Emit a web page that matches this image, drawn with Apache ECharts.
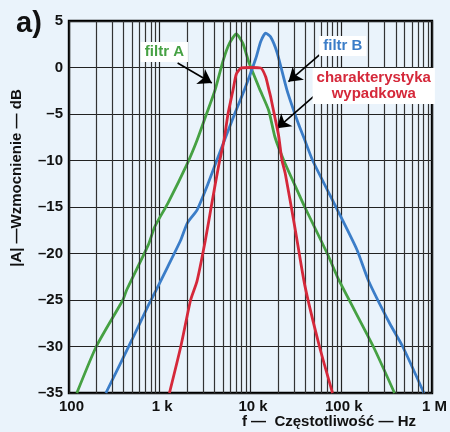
<!DOCTYPE html>
<html>
<head>
<meta charset="utf-8">
<script src="https://cdn.jsdelivr.net/npm/echarts@6/dist/echarts.min.js"></script>
<style>
  html, body { margin: 0; padding: 0; background: #eaf3fb; }
  #chart { width: 450px; height: 432px; }
</style>
</head>
<body>
<div id="chart"></div>
<script>
// Frequency response of two band-pass filters and their cascade (gain in dB vs frequency in Hz)
const filterAFreq = [122, 200, 392, 433, 746, 883, 1227, 2018, 2582, 3273, 4074, 5012, 5861, 6982, 8241, 9638, 12589, 15849, 18621, 23281, 30974, 39628, 70146, 94624, 225424, 386367];
const filterAGain = [-35.0, -30.0, -25.0, -23.9, -19.1, -17.1, -14.6, -10.3, -7.8, -5.0, -2.4, 0.8, 2.6, 3.6, 2.6, 0.5, -2.3, -4.6, -7.5, -10.0, -12.7, -15.0, -20.0, -22.9, -30.0, -35.0];

const filterBFreq = [255, 493, 746, 912, 1227, 1694, 2018, 2582, 3311, 4246, 5176, 6683, 8570, 11455, 12972, 14689, 16634, 19634, 25177, 33574, 39628, 48417, 90573, 148936, 199067, 341193, 475335, 814704];
const filterBGain = [-35.0, -29.3, -25.6, -23.95, -21.4, -18.6, -16.7, -15.3, -12.8, -10.0, -7.8, -5.0, -2.4, 1.0, 2.8, 3.7, 3.3, 1.6, -2.4, -6.0, -7.8, -10.0, -15.3, -19.6, -22.9, -27.5, -30.0, -35.0];

const totalFreq = [1279, 1706, 2188, 2570, 3177, 3750, 4467, 5117, 5649, 6427, 6982, 7907, 10000, 12972, 14689, 15959, 16634, 18836, 20464, 22233, 24155, 30974, 39628, 57544, 80168];
const totalGain = [-35.0, -30.0, -25.0, -23.0, -18.6, -14.6, -10.5, -7.8, -5.0, -2.4, -0.7, -0.05, 0.0, -0.05, -1.0, -2.4, -3.1, -5.65, -7.4, -10.0, -11.4, -17.3, -23.4, -30.0, -35.0];

// Axis ticks
const freqTicks = [100, 1000, 10000, 100000, 1000000];
const freqTickLabels = ['100', '1 k', '10 k', '100 k', '1 M'];
const minorFreqLines = [200, 300, 400, 500, 600, 700, 800, 900,
  2000, 3000, 4000, 5000, 6000, 7000, 8000, 9000,
  20000, 30000, 40000, 50000, 60000, 70000, 80000, 90000,
  200000, 300000, 400000, 500000, 600000, 700000, 800000, 900000];
const gainMin = -35, gainMax = 5, gainStep = 5;

// Annotations: label text, anchor [Hz, dB], arrow from / to [Hz, dB]
const labelA = { text: 'filtr A', at: [1125, 1.67], from: [1574, 0.48], to: [3750, -1.67] };
const labelB = { text: 'filtr B', at: [104000, 2.3], from: [57500, 1.35], to: [26200, -1.53] };
const labelTotal = { text: 'charakterystyka\nwypadkowa', at: [228000, -2.0], from: [52700, -2.9], to: [19600, -6.54] };

const GREEN = '#46a143', BLUE = '#3b7dc8', RED = '#d5283a';
const FONT = 'Liberation Sans, Arial, sans-serif';

const zip = (xs, ys) => xs.map((x, i) => [x, ys[i]]);

const chart = echarts.init(document.getElementById('chart'), null, { renderer: 'canvas' });

function curve(name, freq, gain, color, z) {
  return {
    name, type: 'line', data: zip(freq, gain), z,
    showSymbol: false, smooth: 0.2,
    lineStyle: { color, width: 2.8 }, clip: true, silent: true
  };
}

function tag(item, color) {
  return {
    symbol: 'rect', symbolSize: 1, silent: true,
    itemStyle: { color: 'rgba(0,0,0,0)' },
    data: [{
      coord: item.at,
      label: {
        show: true, position: 'inside', formatter: item.text,
        color, fontWeight: 'bold', fontSize: 15, fontFamily: FONT,
        lineHeight: 16, align: 'center',
        backgroundColor: '#ffffff', padding: [3, 4, 1, 4]
      }
    }]
  };
}

chart.setOption({
  backgroundColor: '#eaf3fb',
  animation: false,
  title: {
    text: 'a)', left: 11, top: 4,
    textStyle: { fontSize: 29, fontWeight: 'bold', fontFamily: FONT, color: '#111' }
  },
  grid: {
    left: 69, top: 21, right: 10, bottom: 39,
    show: true, borderColor: '#000', borderWidth: 2.4, backgroundColor: '#eaf3fb'
  },
  xAxis: {
    type: 'log', logBase: 10, min: freqTicks[0], max: freqTicks[freqTicks.length - 1],
    axisLine: { show: false }, axisTick: { show: false },
    splitLine: { show: true, lineStyle: { color: '#222', width: 1.2 } },
    axisLabel: {
      margin: 6, fontSize: 15, fontWeight: 'bold', fontFamily: FONT, color: '#111',
      padding: [0, 0, 0, 5],
      formatter: v => {
        const i = freqTicks.findIndex(t => Math.abs(Math.log10(t) - Math.log10(v)) < 1e-6);
        return i >= 0 ? freqTickLabels[i] : '';
      }
    }
  },
  yAxis: {
    type: 'value', min: gainMin, max: gainMax, interval: gainStep,
    axisLine: { show: false }, axisTick: { show: false },
    splitLine: { show: true, lineStyle: { color: '#222', width: 1.2 } },
    axisLabel: {
      margin: 6, fontSize: 15, fontWeight: 'bold', fontFamily: FONT, color: '#111',
      formatter: v => (v < 0 ? '\u2013' + (-v) : String(v))
    }
  },
  graphic: [
    {
      type: 'text', x: 17, y: 178, rotation: Math.PI / 2,
      style: {
        text: '|A| \u2014Wzmocnienie \u2014 dB', fill: '#111',
        font: 'bold 15px ' + FONT, align: 'center', verticalAlign: 'middle'
      }
    },
    {
      type: 'text', x: 329, y: 422,
      style: {
        text: 'f \u2014  Cz\u0119stotliwo\u015b\u0107 \u2014 Hz', fill: '#111',
        font: 'bold 15px ' + FONT, align: 'center', verticalAlign: 'middle'
      }
    }
  ],
  series: [
    {
      // fine vertical grid lines at 2..9 within each decade
      type: 'line', data: [], z: 1, silent: true,
      markLine: {
        silent: true, symbol: 'none', label: { show: false },
        lineStyle: { color: '#333', width: 1.2, type: 'solid' },
        data: minorFreqLines.map(f => ({ xAxis: f }))
      }
    },
    curve('filtr A', filterAFreq, filterAGain, GREEN, 3),
    curve('filtr B', filterBFreq, filterBGain, BLUE, 4),
    curve('charakterystyka wypadkowa', totalFreq, totalGain, RED, 5),
    {
      // pointer arrows from the labels to the curves
      type: 'line', data: [], z: 6, silent: true,
      markLine: {
        silent: true, symbol: ['none', 'arrow'], symbolSize: 13,
        itemStyle: { color: '#000' },
        lineStyle: { color: '#000', width: 1.6, type: 'solid' },
        label: { show: false },
        data: [labelA, labelB, labelTotal].map(a => [{ coord: a.from }, { coord: a.to }])
      }
    },
    { type: 'line', data: [], z: 7, silent: true, markPoint: tag(labelA, GREEN) },
    { type: 'line', data: [], z: 7, silent: true, markPoint: tag(labelB, BLUE) },
    { type: 'line', data: [], z: 7, silent: true, markPoint: tag(labelTotal, RED) }
  ]
});
</script>
</body>
</html>
